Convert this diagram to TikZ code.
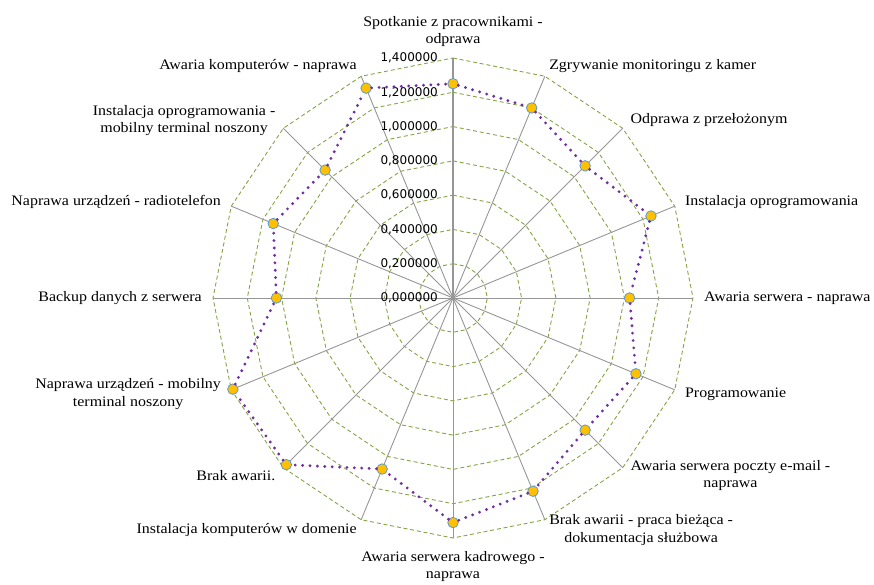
\documentclass[tikz,border=0pt]{standalone}
\usepackage{fontspec}
\usepackage{tikz}
\setmainfont{Liberation Serif}[FakeStretch=1.1]
\newfontfamily\valfont{DejaVu Sans}

\definecolor{gridgreen}{HTML}{86A345}
\definecolor{axisgray}{HTML}{969696}
\definecolor{seriespurple}{HTML}{7030A0}
\definecolor{markerfill}{HTML}{FFC000}
\definecolor{markerline}{HTML}{5B9BD5}

\tikzset{
  ring/.style={gridgreen, dash pattern=on 4pt off 2.8pt, line width=0.9pt},
  spoke/.style={axisgray, line width=0.9pt},
  valaxis/.style={axisgray, line width=1.6pt},
  series/.style={seriespurple, line width=3.2pt, line cap=round, dash pattern=on 0pt off 7.4pt},
  marker/.style={circle, fill=markerfill, draw=markerline, line width=0.8pt, minimum size=10.5pt, inner sep=0pt},
  cat/.style={font=\fontsize{14.5}{17.5}\selectfont, inner sep=0pt, align=center},
  val/.style={font=\valfont\fontsize{12}{14}\selectfont, inner sep=0pt, anchor=east},
}

\begin{document}
\begin{tikzpicture}[x=1pt, y=1pt]
\useasboundingbox (-453,-287) rectangle (421,298);
\coordinate (o) at (0,0);
% rings, every 0,2
\foreach \r in {1,...,7} {
  \draw[ring] (90:{\r*34.2857}) \foreach \k in {1,...,15} { -- ({90-22.5*\k}:{\r*34.2857}) } -- cycle;
}
% spokes
\foreach \k in {0,...,15} {
  \coordinate (a\k) at ({90-22.5*\k}:240);
  \draw[spoke] (o) -- (a\k);
}
\draw[valaxis] (o) -- (a0);
% value axis
\node[val] (v0) at (-15,0) {0,000000};
\node[val] (v1) at (-15,34.29) {0,200000};
\node[val] (v2) at (-15,68.57) {0,400000};
\node[val] (v3) at (-15,102.86) {0,600000};
\node[val] (v4) at (-15,137.14) {0,800000};
\node[val] (v5) at (-15,171.43) {1,000000};
\node[val] (v6) at (-15,205.71) {1,200000};
\node[val] (v7) at (-15,240) {1,400000};
% data
\node[marker] (p1) at (90:{1.25*171.43}) {};
\node[marker] (p2) at (67.5:{1.20*171.43}) {};
\node[marker] (p3) at (45:{1.09*171.43}) {};
\node[marker] (p4) at (22.5:{1.25*171.43}) {};
\node[marker] (p5) at (0:{1.03*171.43}) {};
\node[marker] (p6) at (-22.5:{1.155*171.43}) {};
\node[marker] (p7) at (-45:{1.09*171.43}) {};
\node[marker] (p8) at (-67.5:{1.22*171.43}) {};
\node[marker] (p9) at (-90:{1.31*171.43}) {};
\node[marker] (p10) at (-112.5:{1.08*171.43}) {};
\node[marker] (p11) at (-135:{1.375*171.43}) {};
\node[marker] (p12) at (-157.5:{1.39*171.43}) {};
\node[marker] (p13) at (180:{1.03*171.43}) {};
\node[marker] (p14) at (157.5:{1.135*171.43}) {};
\node[marker] (p15) at (135:{1.055*171.43}) {};
\node[marker] (p16) at (112.5:{1.325*171.43}) {};
\draw[series] (p1)--(p2)--(p3)--(p4)--(p5)--(p6)--(p7)--(p8)--(p9)--(p10)--(p11)--(p12)--(p13)--(p14)--(p15)--(p16)--(p1);
% categories
\node[cat, anchor=south] (c1) at (90:251) {Spotkanie z pracownikami -\\odprawa};
\node[cat, anchor=west] (c2) at (67.5:251) {Zgrywanie monitoringu z kamer};
\node[cat, anchor=west] (c3) at (45:251) {Odprawa z przełożonym};
\node[cat, anchor=west] (c4) at (22.5:251) {Instalacja oprogramowania};
\node[cat, anchor=west] (c5) at (0:251) {Awaria serwera - naprawa};
\node[cat, anchor=west] (c6) at (-22.5:251) {Programowanie};
\node[cat, anchor=west] (c7) at (-45:251) {Awaria serwera poczty e-mail -\\naprawa};
\node[cat, anchor=west] (c8) at (-67.5:251) {Brak awarii - praca bieżąca -\\dokumentacja służbowa};
\node[cat, anchor=north] (c9) at (-90:253) {Awaria serwera kadrowego -\\naprawa};
\node[cat, anchor=east] (c10) at (-112.5:251) {Instalacja komputerów w domenie};
\node[cat, anchor=east] (c11) at (-135:251) {Brak awarii.};
\node[cat, anchor=east] (c12) at (-157.5:251) {Naprawa urządzeń - mobilny\\terminal noszony};
\node[cat, anchor=east] (c13) at (180:251) {Backup danych z serwera};
\node[cat, anchor=east] (c14) at (157.5:251) {Naprawa urządzeń - radiotelefon};
\node[cat, anchor=east] (c15) at (135:251) {Instalacja oprogramowania -\\mobilny terminal noszony};
\node[cat, anchor=east] (c16) at (112.5:251) {Awaria komputerów - naprawa};
\end{tikzpicture}
\end{document}
